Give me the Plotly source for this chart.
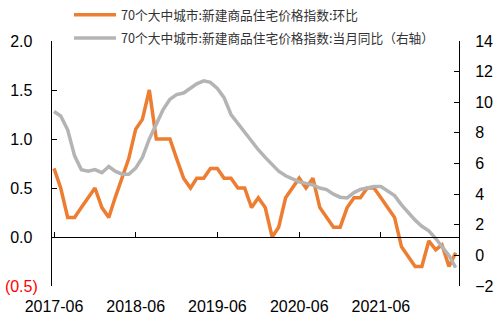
import plotly.graph_objects as go

months = [f"{y}-{m:02d}-01" for y in range(2017, 2023) for m in range(1, 13)]
months = months[5:65]  # 2017-06 .. 2022-05

mom = [0.7, 0.5, 0.2, 0.2, 0.3, 0.4, 0.5, 0.3, 0.2, 0.4, 0.6, 0.8,
       1.1, 1.2, 1.5, 1.0, 1.0, 1.0, 0.8, 0.6, 0.5, 0.6, 0.6, 0.7,
       0.7, 0.6, 0.6, 0.5, 0.5, 0.3, 0.4, 0.3, 0.0, 0.1, 0.4, 0.5,
       0.6, 0.5, 0.6, 0.3, 0.2, 0.1, 0.1, 0.3, 0.4, 0.4, 0.5, 0.5,
       0.4, 0.3, 0.2, -0.1, -0.2, -0.3, -0.3, -0.04, -0.13, -0.08, -0.3, -0.16]

yoy = [9.4, 9.1, 8.2, 6.5, 5.6, 5.5, 5.6, 5.4, 5.8, 5.5, 5.3, 5.3,
       5.7, 6.4, 7.6, 8.6, 9.5, 10.2, 10.5, 10.6, 10.9, 11.2, 11.4, 11.3,
       10.9, 10.3, 9.2, 8.6, 8.0, 7.4, 6.9, 6.4, 5.9, 5.5, 5.2, 5.0,
       4.8, 4.7, 4.6, 4.4, 4.3, 4.0, 3.8, 3.75, 4.1, 4.3, 4.4, 4.5,
       4.5, 4.2, 3.9, 3.3, 2.8, 2.3, 1.9, 1.6, 1.1, 0.6, 0.0, -0.8]

name_mom = "70个大中城市:新建商品住宅价格指数:环比"
name_yoy = "70个大中城市:新建商品住宅价格指数:当月同比（右轴）"

x_tick_vals = ["2017-06-01", "2018-06-01", "2019-06-01", "2020-06-01", "2021-06-01"]
x_tick_text = ["2017-06", "2018-06", "2019-06", "2020-06", "2021-06"]

left_vals = [-0.5, 0.0, 0.5, 1.0, 1.5, 2.0]
hid = '<span style="color:rgba(0,0,0,0)">)</span>'
left_text = ['<span style="color:#FF0000">(0.5)</span>', "0.0" + hid, "0.5" + hid,
             "1.0" + hid, "1.5" + hid, "2.0" + hid]
right_vals = [-2, 0, 2, 4, 6, 8, 10, 12, 14]

ORANGE = "#ED7D31"
GRAY = "#B4B4B4"
x_range = ["2017-05-23", "2022-05-16"]

fig = go.Figure()
fig.add_trace(go.Scatter(x=months, y=mom, name=name_mom, mode="lines",
                         line=dict(color=ORANGE, width=3.5), yaxis="y",
                         legend="legend"))
fig.add_trace(go.Scatter(x=months, y=yoy, name=name_yoy, mode="lines",
                         line=dict(color=GRAY, width=3.5), yaxis="y2",
                         legend="legend2"))

tickfont = dict(family="Liberation Sans, Arial, sans-serif", size=16, color="#000000")
legfont = dict(family="Noto Sans CJK SC, sans-serif", size=12.7, color="#333333")

fig.update_layout(
    width=497, height=323,
    margin=dict(l=52, r=38, t=41, b=37, autoexpand=False),
    paper_bgcolor="white", plot_bgcolor="white",
    showlegend=True,
    legend=dict(xref="container", yref="container", x=69 / 497, y=1 - 0 / 323,
                xanchor="left", yanchor="top", font=legfont,
                bgcolor="rgba(0,0,0,0)", itemwidth=42),
    legend2=dict(xref="container", yref="container", x=69 / 497, y=1 - 23.3 / 323,
                 xanchor="left", yanchor="top", font=legfont,
                 bgcolor="rgba(0,0,0,0)", itemwidth=42),
    xaxis=dict(type="date", range=x_range, tickvals=x_tick_vals, ticktext=x_tick_text,
               anchor="free", position=0.2,
               showline=True, linecolor="#000000", linewidth=1, ticks="inside",
               ticklen=5, tickcolor="#000000", showgrid=False, zeroline=False,
               tickfont=tickfont, ticklabelstandoff=55),
    yaxis=dict(range=[-0.5, 2.0], tickvals=left_vals, ticktext=left_text,
               showline=True, linecolor="#000000", linewidth=1, ticks="inside",
               ticklen=5, tickcolor="#000000", showgrid=False, zeroline=False,
               tickfont=tickfont, ticklabelstandoff=10),
    yaxis2=dict(range=[-2, 14], tickvals=right_vals, overlaying="y", side="right",
                anchor="x", showline=True, linecolor="#000000", linewidth=1,
                ticks="inside", ticklen=5, tickcolor="#000000", showgrid=False,
                zeroline=False, tickfont=tickfont, ticklabelstandoff=12),
)

fig.write_html("out.html")
